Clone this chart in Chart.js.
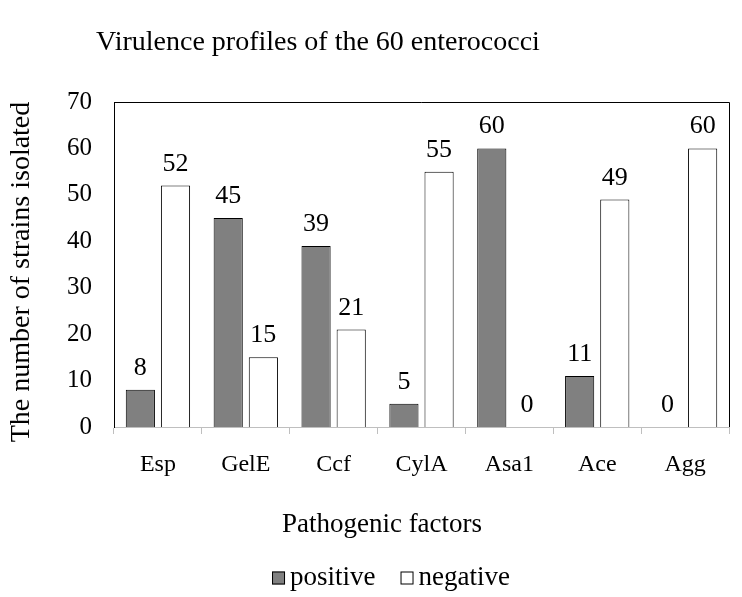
<!DOCTYPE html>
<html>
<head>
<meta charset="utf-8">
<script src="https://cdn.jsdelivr.net/npm/chart.js@4"></script>
<style>
html,body{margin:0;padding:0;background:#fff;}
#wrap{width:742px;height:597px;}
</style>
</head>
<body>
<div id="wrap"><canvas id="c" width="742" height="597"></canvas></div>
<script>
const categories = ["Esp", "GelE", "Ccf", "CylA", "Asa1", "Ace", "Agg"];
const positive = [8, 45, 39, 5, 60, 11, 0];
const negative = [52, 15, 21, 55, 0, 49, 60];
const seriesNames = ["positive", "negative"];
const seriesColors = ["#808080", "#ffffff"];
const yTicks = [0, 10, 20, 30, 40, 50, 60, 70];
const chartTitle = "Virulence profiles of the 60 enterococci";
const xTitle = "Pathogenic factors";
const yTitle = "The number of strains isolated";

const FONT = '"Liberation Serif", "Times New Roman", serif';

const textPlugin = {
  id: 'customTexts',
  afterDraw(chart) {
    const ctx = chart.ctx;
    ctx.save();
    ctx.fillStyle = '#000';
    // chart title
    ctx.font = '28px ' + FONT;
    ctx.textAlign = 'center';
    ctx.textBaseline = 'alphabetic';
    ctx.fillText(chartTitle, 318, 50);
    // x axis title
    ctx.font = '27px ' + FONT;
    ctx.fillText(xTitle, 382, 532);
    // y axis title
    ctx.save();
    ctx.translate(22, 272);
    ctx.rotate(-Math.PI / 2);
    ctx.font = '28px ' + FONT;
    ctx.textBaseline = 'middle';
    ctx.fillText(yTitle, 0, 0);
    ctx.restore();
    // legend
    ctx.font = '27px ' + FONT;
    ctx.textAlign = 'left';
    ctx.textBaseline = 'middle';
    const box = 13, gap = 5, itemGap = 25;
    const widths = seriesNames.map(n => ctx.measureText(n).width);
    const total = widths.reduce((s, w) => s + box + gap + w, 0) + itemGap * (seriesNames.length - 1);
    let x = 391 - total / 2;
    const cy = 578;
    seriesNames.forEach((n, i) => {
      ctx.fillStyle = seriesColors[i];
      ctx.fillRect(x, cy - box / 2, box, box);
      ctx.strokeStyle = '#000';
      ctx.lineWidth = 1;
      ctx.strokeRect(x + 0.5, cy - box / 2 + 0.5, box - 1, box - 1);
      ctx.fillStyle = '#000';
      ctx.fillText(n, x + box + gap, cy);
      x += box + gap + widths[i] + itemGap;
    });
    ctx.restore();
  }
};

const boxPlugin = {
  id: 'plotBox',
  beforeDatasetsDraw(chart) {
    const {ctx, chartArea: a} = chart;
    ctx.save();
    ctx.strokeStyle = '#000';
    ctx.lineWidth = 1;
    ctx.beginPath();
    ctx.moveTo(a.left, a.top + 0.5);
    ctx.lineTo(a.right + 0.5, a.top + 0.5);
    ctx.lineTo(a.right + 0.5, a.bottom);
    ctx.stroke();
    ctx.restore();
  }
};

const labelPlugin = {
  id: 'valueLabels',
  afterDatasetsDraw(chart) {
    const ctx = chart.ctx;
    ctx.save();
    ctx.font = '26px ' + FONT;
    ctx.fillStyle = '#000';
    ctx.textAlign = 'center';
    ctx.textBaseline = 'alphabetic';
    chart.data.datasets.forEach((ds, di) => {
      const meta = chart.getDatasetMeta(di);
      meta.data.forEach((bar, i) => {
        ctx.fillText(String(ds.data[i]), bar.x, bar.y - 15);
      });
    });
    ctx.restore();
  }
};

new Chart(document.getElementById('c'), {
  type: 'bar',
  data: {
    labels: categories,
    datasets: [
      { label: seriesNames[0], data: positive, backgroundColor: seriesColors[0], borderColor: '#000', borderWidth: 1 },
      { label: seriesNames[1], data: negative, backgroundColor: seriesColors[1], borderColor: '#000', borderWidth: 1 }
    ]
  },
  options: {
    responsive: false,
    animation: false,
    devicePixelRatio: 1,
    categoryPercentage: 0.8,
    barPercentage: 0.83,
    layout: { padding: { top: 102, right: 13, left: 0, bottom: 0 } },
    plugins: {
      legend: { display: false },
      tooltip: { enabled: false },
      title: { display: false }
    },
    scales: {
      x: {
        afterFit(scale) { scale.height = 170; },
        grid: { display: true, drawOnChartArea: false, drawTicks: true, tickLength: 7, color: '#bfbfbf' },
        border: { display: true, color: '#bfbfbf', width: 1 },
        ticks: { font: { family: FONT, size: 24 }, color: '#000', padding: 16 }
      },
      y: {
        min: 0, max: 70,
        afterBuildTicks(scale) { scale.ticks = yTicks.map(v => ({ value: v })); },
        afterFit(scale) { scale.width = 114; },
        grid: { display: false, drawTicks: false },
        border: { display: true, color: '#000', width: 1 },
        ticks: { font: { family: FONT, size: 25 }, color: '#000', padding: 22 }
      }
    }
  },
  plugins: [textPlugin, boxPlugin, labelPlugin]
});
</script>
</body>
</html>
